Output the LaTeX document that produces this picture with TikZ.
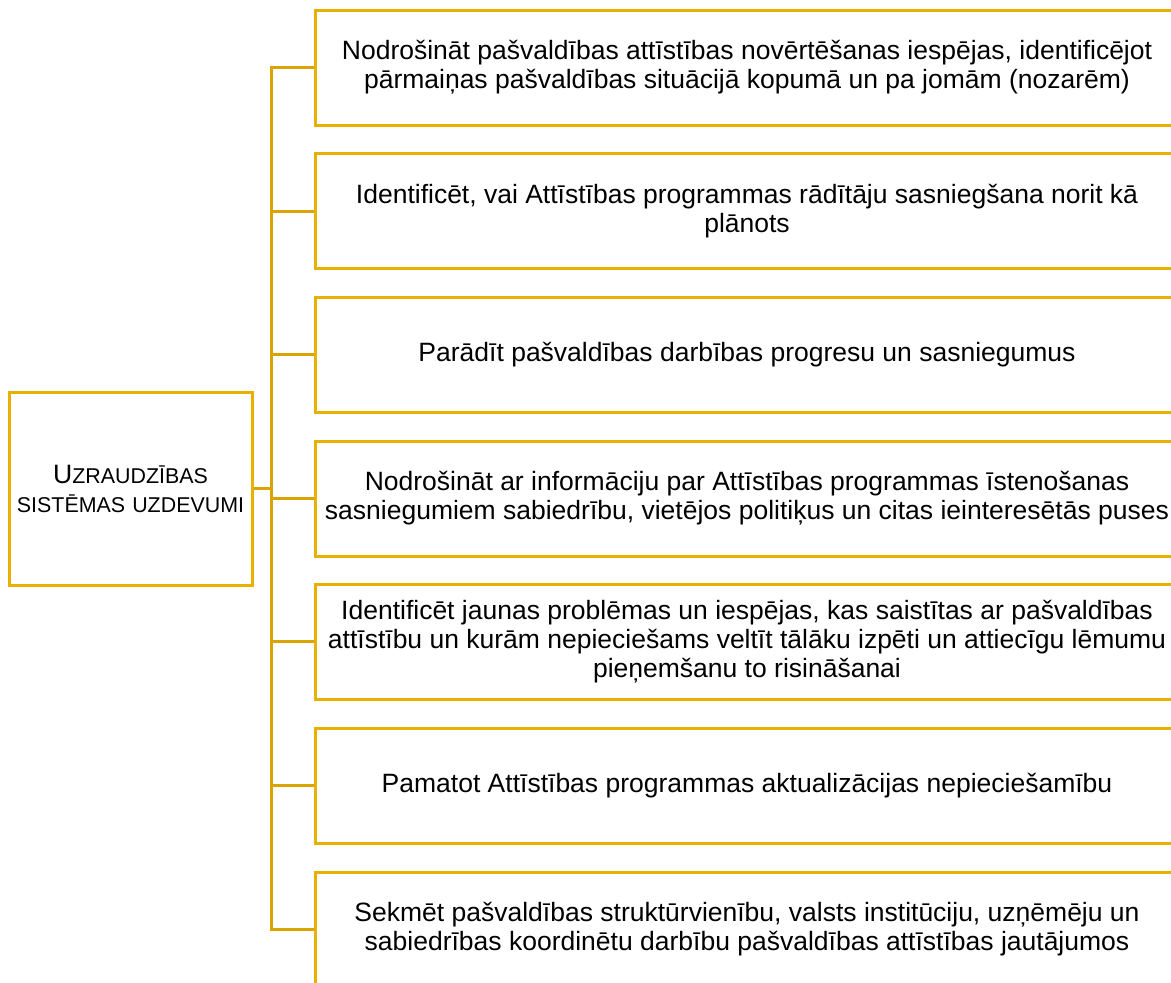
\documentclass[tikz,border=0pt]{standalone}
\usepackage{fontspec}
\setmainfont{Liberation Sans}
\definecolor{boxcol}{RGB}{232,176,0}
\definecolor{linecol}{RGB}{218,163,0}
\tikzset{
  taskbox/.style={draw=boxcol, line width=3pt, minimum width=863pt, minimum height=115pt,
    align=center, inner sep=0pt, anchor=west,
    font=\fontsize{26.5}{29}\selectfont},
  mainbox/.style={draw=boxcol, line width=3pt, minimum width=243pt, minimum height=193pt,
    text width=235pt, align=center, inner sep=0pt,
    font=\fontsize{21.4}{29}\selectfont},
  conn/.style={draw=linecol, line width=3pt}
}
\newcommand{\bigU}{{\fontsize{26.6}{29}\selectfont U}}
\begin{document}
\begin{tikzpicture}[x=1pt,y=-1pt]
\useasboundingbox (0,0) rectangle (1171,983);
\clip (0,0) rectangle (1171,983);
\fill[white] (0,0) rectangle (1171,983);
\node[mainbox] (lbox) at (130.5,488.5) {\bigU ZRAUDZĪBAS\\SISTĒMAS UZDEVUMI};
\node[taskbox] (b1) at (314,67.5) {Nodrošināt pašvaldības attīstības novērtēšanas iespējas, identificējot\\pārmaiņas pašvaldības situācijā kopumā un pa jomām (nozarēm)};
\node[taskbox] (b2) at (314,211) {Identificēt, vai Attīstības programmas rādītāju sasniegšana norit kā\\plānots};
\node[taskbox] (b3) at (314,354.5) {Parādīt pašvaldības darbības progresu un sasniegumus};
\node[taskbox] (b4) at (314,498.5) {Nodrošināt ar informāciju par Attīstības programmas īstenošanas\\sasniegumiem sabiedrību, vietējos politiķus un citas ieinteresētās puses};
\node[taskbox] (b5) at (314,641.5) {Identificēt jaunas problēmas un iespējas, kas saistītas ar pašvaldības\\attīstību un kurām nepieciešams veltīt tālāku izpēti un attiecīgu lēmumu\\pieņemšanu to risināšanai};
\node[taskbox] (b6) at (314,785.5) {Pamatot Attīstības programmas aktualizācijas nepieciešamību};
\node[taskbox] (b7) at (314,929.5) {Sekmēt pašvaldības struktūrvienību, valsts institūciju, uzņēmēju un\\sabiedrības koordinētu darbību pašvaldības attīstības jautājumos};
\coordinate (t1) at (271,67.5);
\coordinate (t2) at (271,211);
\coordinate (t3) at (271,354.5);
\coordinate (t4) at (271,498.5);
\coordinate (t5) at (271,641.5);
\coordinate (t6) at (271,785.5);
\coordinate (t7) at (271,929.5);
\coordinate (tm) at (271,488.5);
\draw[conn] (lbox.east) -- (tm);
\draw[conn, line join=miter] (b1.west) -- (t1) -- (t7) -- (b7.west);
\foreach \i in {2,...,6} {\draw[conn] (t\i) -- (b\i.west);}
\end{tikzpicture}
\end{document}
